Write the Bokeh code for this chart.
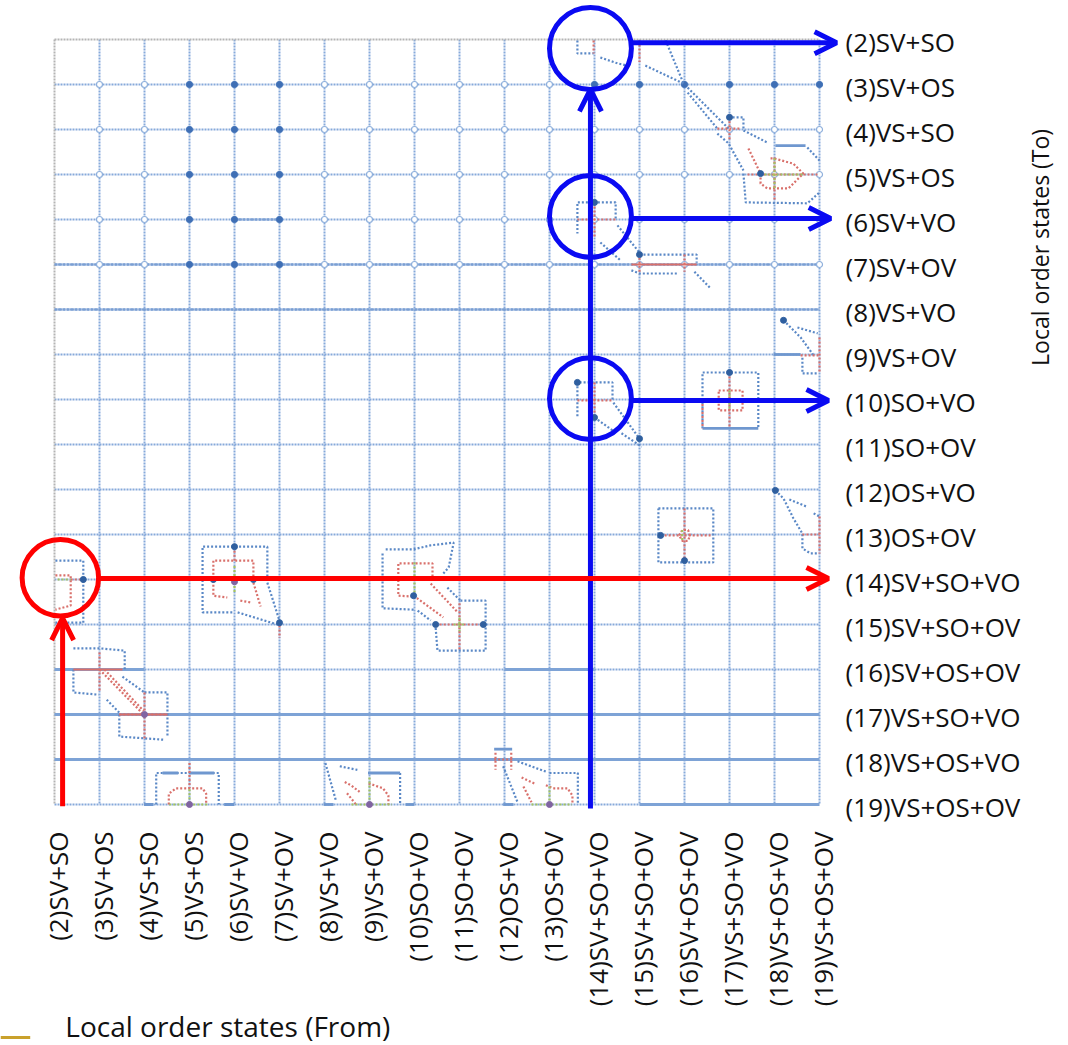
import math
from bokeh.plotting import figure
from bokeh.models import Range1d, Arrow, OpenHead
from bokeh.core.properties import value
from bokeh.embed import file_html
from bokeh.resources import INLINE

# ---------------- data ----------------
states = list(range(2, 20))
state_names = ["SV+SO", "SV+OS", "VS+SO", "VS+OS", "SV+VO", "SV+OV", "VS+VO", "VS+OV",
               "SO+VO", "SO+OV", "OS+VO", "OS+OV", "SV+SO+VO", "SV+SO+OV", "SV+OS+OV",
               "VS+SO+VO", "VS+OS+VO", "VS+OS+OV"]
tick_labels = [f"({s}){n}" for s, n in zip(states, state_names)]
x_title = "Local order states (From)"
y_title = "Local order states (To)"

# solid / wavy row segments: (row, from column, to column)
solid_rows = [(17, 2, 19), (18, 2, 19), (16, 2, 4), (16, 12, 14), (19, 15, 19)]
wavy_rows = [(7, 2, 19), (8, 2, 19), (6, 6, 7)]

# highlighted transitions
blue_from = 14
blue_to = [2, 6, 10]
red_from = 2
red_to = 14

# traced transition contours (state units: from, to)
blue_paths = [
    [(13.62, 2.02), (13.62, 2.31), (13.98, 2.31)],
    [(14.13, 2.4), (14.51, 2.53), (14.73, 2.58)],
    [(15.13, 2.58), (15.98, 2.98)],
    [(15.58, 2.02), (15.98, 2.98)],
    [(16.07, 3.07), (16.98, 3.98)],
    [(16.07, 3.18), (16.73, 3.98)],
    [(16.98, 3.73), (17.31, 3.73), (17.31, 3.98)],
    [(17.31, 4.02), (17.84, 4.29)],
    [(16.73, 4.09), (16.98, 4.31), (17.31, 4.91)],
    [(17.31, 4.98), (17.36, 5.62), (18.73, 5.64), (19.0, 5.4)],
    [(18.73, 4.4), (19.0, 4.69)],
    [(14.47, 5.98), (14.47, 5.62), (13.62, 5.62), (13.62, 6.31)],
    [(14.51, 6.13), (15.02, 6.76)],
    [(14.13, 6.51), (14.58, 6.91)],
    [(15.0, 6.78), (16.27, 6.78), (16.27, 6.96)],
    [(14.82, 7.13), (15.0, 7.2), (15.87, 7.2)],
    [(16.22, 7.16), (16.56, 7.51)],
    [(18.2, 8.24), (18.58, 8.62), (18.87, 9.02)],
    [(18.51, 8.4), (18.96, 8.53)],
    [(18.62, 9.07), (18.62, 9.42), (18.98, 9.42)],
    [(14.4, 10.0), (14.4, 9.62), (13.62, 9.62), (13.62, 10.4)],
    [(14.42, 10.07), (15.0, 10.87)],
    [(14.0, 10.4), (14.42, 10.7)],
    [(14.6, 10.75), (15.05, 11.05)],
    [(16.4, 10.64), (16.4, 9.4), (17.64, 9.4), (17.64, 10.64)],
    [(15.42, 12.42), (16.64, 12.42), (16.64, 13.62), (15.42, 13.62), (15.42, 12.42)],
    [(18.02, 12.02), (18.2, 12.2), (18.42, 12.64), (18.62, 12.98), (18.62, 13.31), (18.8, 13.42), (18.98, 13.42)],
    [(18.33, 12.22), (18.71, 12.38)],
    [(18.87, 12.53), (19.0, 12.6)],
    [(2.02, 13.58), (2.64, 13.58), (2.64, 14.96), (2.02, 14.96)],
    [(2.42, 15.53), (3.0, 15.53), (3.56, 15.58), (3.56, 16.0)],
    [(2.42, 16.0), (2.42, 16.51), (2.98, 16.56)],
    [(3.16, 16.67), (3.44, 16.96)],
    [(3.51, 16.16), (4.0, 16.51)],
    [(4.0, 16.51), (4.51, 16.51), (4.51, 17.49)],
    [(3.44, 17.0), (3.44, 17.49), (4.42, 17.56)],
    [(6.73, 14.02), (6.73, 13.27), (5.29, 13.27), (5.29, 14.73), (5.98, 14.73)],
    [(6.73, 14.07), (7.02, 14.98)],
    [(6.07, 14.73), (7.02, 15.02)],
    [(9.98, 14.67), (9.29, 14.64), (9.29, 13.4)],
    [(9.36, 13.33), (9.98, 13.33), (10.36, 13.24), (10.87, 13.18), (10.76, 13.73), (10.64, 13.87)],
    [(10.07, 14.69), (10.36, 14.91)],
    [(10.73, 14.18), (11.02, 14.47)],
    [(11.02, 14.47), (11.58, 14.47), (11.58, 15.58), (10.51, 15.58), (10.47, 15.07)],
    [(4.26, 19.0), (4.26, 18.3), (5.65, 18.3), (5.65, 19.0)],
    [(8.02, 18.08), (8.25, 18.9)],
    [(8.34, 18.15), (8.73, 18.23)],
    [(8.97, 18.3), (9.68, 18.3), (9.68, 19.0)],
    [(11.97, 18.15), (12.29, 18.95)],
    [(12.29, 18.04), (12.92, 18.27)],
    [(13.0, 18.3), (13.63, 18.3), (13.63, 19.0)],
]
blue_solid_paths = [
    [(18.02, 4.36), (18.69, 4.36)],
    [(16.4, 10.64), (17.64, 10.64)],
    [(11.77, 17.77), (12.17, 17.77)],
    [(8.97, 18.3), (9.68, 18.3)],
    [(4.4, 18.3), (4.75, 18.3)],
    [(5.0, 18.3), (5.55, 18.3)],
    [(3.99, 19.0), (4.2, 19.0)],
    [(5.77, 19.0), (6.0, 19.0)],
    [(7.98, 19.0), (8.2, 19.0)],
    [(9.8, 19.0), (10.0, 19.0)],
    [(11.97, 19.0), (12.2, 19.0)],
    [(17.98, 9.0), (18.58, 9.0)],
]
red_paths = [
    [(13.98, 2.02), (13.98, 2.31)],
    [(15.0, 2.02), (15.0, 2.5)],
    [(16.73, 3.98), (17.24, 3.98)],
    [(17.0, 3.73), (17.0, 4.24)],
    [(17.42, 4.42), (17.69, 4.98)],
    [(17.69, 4.98), (17.69, 5.2), (17.84, 5.31), (18.31, 5.31), (18.64, 4.98), (18.42, 4.76), (17.98, 4.64), (17.91, 4.64)],
    [(17.4, 5.0), (19.0, 5.0)],
    [(18.0, 4.62), (18.0, 5.58)],
    [(13.62, 6.0), (14.47, 6.0)],
    [(14.0, 5.62), (14.0, 6.4)],
    [(16.0, 6.78), (16.0, 7.16)],
    [(15.0, 6.85), (15.0, 7.2)],
    [(18.58, 9.02), (19.0, 9.02)],
    [(19.0, 8.62), (19.0, 9.42)],
    [(13.62, 10.02), (14.4, 10.02)],
    [(14.0, 9.62), (14.0, 10.4)],
    [(16.76, 9.8), (17.29, 9.8), (17.29, 10.24), (16.76, 10.24), (16.76, 9.8)],
    [(17.0, 9.4), (17.0, 10.64)],
    [(16.4, 10.1), (16.4, 10.64)],
    [(15.47, 13.02), (16.58, 13.02)],
    [(16.0, 12.42), (16.0, 13.58)],
    [(15.88, 13.02), (15.95, 12.9), (16.08, 12.9), (16.12, 13.02), (16.08, 13.14), (15.95, 13.14), (15.88, 13.02)],
    [(18.62, 13.0), (19.0, 13.0)],
    [(19.0, 12.6), (19.0, 13.42)],
    [(2.02, 13.91), (2.36, 13.91), (2.36, 14.58), (2.02, 14.67)],
    [(2.36, 14.0), (2.64, 14.0)],
    [(3.0, 15.62), (3.0, 16.51)],
    [(3.0, 16.0), (3.98, 17.0)],
    [(3.11, 16.0), (3.98, 16.92)],
    [(3.44, 17.0), (4.51, 17.0)],
    [(4.0, 16.51), (4.0, 17.56)],
    [(6.42, 14.02), (6.42, 13.58), (5.53, 13.58), (5.53, 14.36), (5.84, 14.4)],
    [(6.42, 14.07), (6.58, 14.6)],
    [(6.13, 14.47), (6.36, 14.51)],
    [(6.0, 13.27), (6.0, 13.62)],
    [(5.29, 14.0), (6.73, 14.0)],
    [(7.0, 15.02), (7.0, 15.3)],
    [(10.4, 14.02), (10.4, 13.64), (9.64, 13.64), (9.64, 14.36), (9.98, 14.38)],
    [(9.98, 14.36), (10.64, 14.84)],
    [(10.36, 14.09), (10.96, 14.73)],
    [(9.29, 14.0), (10.6, 14.0)],
    [(11.0, 14.53), (11.0, 15.58)],
    [(10.47, 15.0), (11.58, 15.0)],
    [(4.54, 19.0), (4.54, 18.76), (4.7, 18.64), (5.29, 18.64), (5.37, 18.76), (5.37, 19.0)],
    [(5.0, 18.08), (5.0, 18.64)],
    [(8.45, 18.5), (8.6, 18.58), (8.78, 18.72)],
    [(8.5, 18.75), (8.7, 19.0)],
    [(8.98, 18.53), (9.3, 18.64), (9.42, 18.8), (9.42, 19.0)],
    [(11.77, 18.0), (12.17, 18.0)],
    [(11.8, 17.85), (11.8, 18.23)],
    [(12.15, 17.85), (12.15, 18.23)],
    [(12.38, 18.4), (12.7, 18.55)],
    [(12.42, 18.6), (12.6, 18.95)],
    [(12.92, 18.57), (13.08, 18.64), (13.4, 18.64), (13.51, 18.8), (13.51, 19.0)],
]
red_solid_paths = [
    [(14.82, 7.0), (16.27, 7.0)],
    [(2.42, 16.0), (3.51, 16.0)],
    [(3.44, 17.0), (4.51, 17.0)],
]
green_paths = [
    [(17.69, 5.0), (18.64, 5.0)],
    [(18.0, 4.64), (18.0, 5.31)],
    [(17.0, 9.8), (17.0, 10.24)],
    [(15.95, 12.9), (15.95, 13.14)],
    [(2.07, 14.0), (2.36, 14.0)],
    [(5.78, 14.0), (6.24, 14.0)],
    [(6.0, 13.7), (6.0, 14.33)],
    [(9.6, 14.0), (10.3, 14.0)],
    [(10.0, 13.62), (10.0, 14.33)],
    [(10.87, 15.0), (11.13, 15.0)],
    [(11.0, 14.85), (11.0, 15.15)],
    [(5.0, 18.66), (5.0, 19.0)],
    [(4.55, 19.0), (5.4, 19.0)],
    [(9.0, 18.4), (9.0, 19.0)],
    [(8.6, 19.0), (9.5, 19.0)],
    [(13.0, 18.6), (13.0, 19.0)],
    [(12.6, 19.0), (13.5, 19.0)],
]
dark_points = [(17.0, 3.73), (14.0, 5.62), (15.0, 6.78), (14.0, 10.4), (15.0, 10.87),
               (17.0, 9.4), (15.47, 13.02), (16.0, 13.58), (18.02, 12.02), (2.64, 14.0),
               (6.0, 13.27), (5.53, 14.0), (6.42, 14.0), (7.0, 14.96), (10.47, 15.0),
               (11.53, 15.0), (9.98, 14.36), (17.69, 4.98), (18.2, 8.24), (13.62, 9.62)]
purple_points = [(5.0, 19.0), (9.0, 19.0), (13.0, 19.0), (6.0, 14.05), (4.0, 17.0)]

# ---------------- figure ----------------
W, H = 1064, 1045
CELL = 45.0
x0 = 2 - 54 / CELL
y0 = 2 - 39 / CELL
p = figure(width=W, height=H, x_range=Range1d(x0, x0 + W / CELL),
           y_range=Range1d(y0 + H / CELL, y0), output_backend="svg",
           toolbar_location=None, min_border=0, x_axis_location=None,
           y_axis_location=None, tools="")
p.grid.visible = False
p.outline_line_color = None

GRID = "#86a9da"
lo, hi = states[0], states[-1]

# grid lines (dotted)
inner = states[1:]
p.multi_line([[s, s] for s in inner], [[lo, hi] for s in inner],
             line_color=GRID, line_width=2, line_dash="2 1")
p.multi_line([[lo, hi] for s in inner], [[s, s] for s in inner],
             line_color=GRID, line_width=2, line_dash="2 1")
p.multi_line([[lo, lo], [lo, hi]], [[lo, hi], [lo, lo]],
             line_color="#b4b4b4", line_width=2, line_dash="2 1")

# solid / wavy rows
p.multi_line([[a, b] for r, a, b in solid_rows], [[r, r] for r, a, b in solid_rows],
             line_color="#7ea3d6", line_width=3)
p.multi_line([[a, b] for r, a, b in wavy_rows], [[r, r] for r, a, b in wavy_rows],
             line_color="#7b9fd3", line_width=2.5, line_dash="3 1")

# node markers
hollow = [(c, r) for c in states[1:] for r in range(3, 8)]
p.scatter([c for c, r in hollow], [r for c, r in hollow], size=6, marker="circle",
          fill_color="white", line_color="#8fb0dc", line_width=1.2)
dark_nodes = [(c, r) for c in (5, 6, 7) for r in (3, 4, 5, 6, 7)] + [(c, 3) for c in range(14, 20)]
p.scatter([c for c, r in dark_nodes], [r for c, r in dark_nodes], size=6, marker="circle",
          fill_color="#3f6fb5", line_color="#3f6fb5")

def ml(paths, **kw):
    p.multi_line([[pt[0] for pt in pa] for pa in paths], [[pt[1] for pt in pa] for pa in paths], **kw)

ml(blue_paths, line_color="#5a88c6", line_width=2.2, line_dash="2 2")
ml(blue_solid_paths, line_color="#6f97cf", line_width=2.8)
ml(red_paths, line_color="#d9706b", line_width=2.2, line_dash="2 2")
ml(red_solid_paths, line_color="#d9706b", line_width=2.2)
ml(green_paths, line_color="#a5c45f", line_width=2.2, line_dash="2 2")
p.scatter([a for a, b in dark_points], [b for a, b in dark_points], size=6,
          fill_color="#2f5f9f", line_color="#2f5f9f")
p.scatter([a for a, b in purple_points], [b for a, b in purple_points], size=6,
          fill_color="#8064a2", line_color="#8064a2")

# highlight circles and arrows
BLUE = "#0a0af2"
RED = "#ff0000"
R_BLUE = 0.91
R_RED = 0.85
circ_dy = [0.2, -0.07, -0.02]
arrow_dy = [0.07, -0.02, 0.02]
arrow_end = [19.38, 19.25, 19.2]
bx = blue_from - 0.09
p.circle([bx] * 3, [t + d for t, d in zip(blue_to, circ_dy)], radius=R_BLUE,
         fill_color=None, line_color=BLUE, line_width=5)
for t, d, ad, xe in zip(blue_to, circ_dy, arrow_dy, arrow_end):
    p.add_layout(Arrow(end=OpenHead(size=22, line_width=5, line_color=BLUE),
                       x_start=bx + R_BLUE, y_start=t + ad, x_end=xe, y_end=t + ad,
                       line_color=BLUE, line_width=5))
p.add_layout(Arrow(end=OpenHead(size=22, line_width=5, line_color=BLUE),
                   x_start=bx, y_start=hi + 0.09, x_end=bx, y_end=blue_to[0] + circ_dy[0] + R_BLUE,
                   line_color=BLUE, line_width=5))

rx, ry = red_from + 0.13, red_to - 0.04
p.circle([rx], [ry], radius=R_RED, fill_color=None, line_color=RED, line_width=5)
p.add_layout(Arrow(end=OpenHead(size=22, line_width=5, line_color=RED),
                   x_start=rx + R_RED, y_start=ry + 0.02, x_end=19.2, y_end=ry + 0.02,
                   line_color=RED, line_width=5))
p.add_layout(Arrow(end=OpenHead(size=22, line_width=5, line_color=RED),
                   x_start=rx + 0.05, y_start=hi + 0.04, x_end=rx + 0.05, y_end=ry + R_RED + 0.05,
                   line_color=RED, line_width=5))

# labels
FONT = value("Open Sans")
p.text(x=[hi + 0.58] * len(states), y=[s + 0.06 for s in states], text=tick_labels,
       text_font=FONT, text_font_size="26px", text_align="left", text_baseline="middle",
       text_color="#111111")
p.text(x=[s + 0.07 for s in states], y=[hi + 0.6] * len(states), text=tick_labels,
       angle=math.pi / 2, text_font=FONT, text_font_size="26px", text_align="right",
       text_baseline="middle", text_color="#111111")
p.text(x=[2.24], y=[23.93], text=[x_title], text_font=FONT, text_font_size="28px",
       text_align="left", text_baseline="middle", text_color="#111111")
p.text(x=[23.91], y=[6.62], text=[y_title], angle=math.pi / 2, text_font=FONT,
       text_font_size="23px", text_align="center", text_baseline="middle", text_color="#111111")
p.segment(x0=[x0], y0=[24.18], x1=[x0 + 0.66], y1=[24.18], line_color="#c9a12c", line_width=3)

open("out.html", "w").write(file_html(p, INLINE))
